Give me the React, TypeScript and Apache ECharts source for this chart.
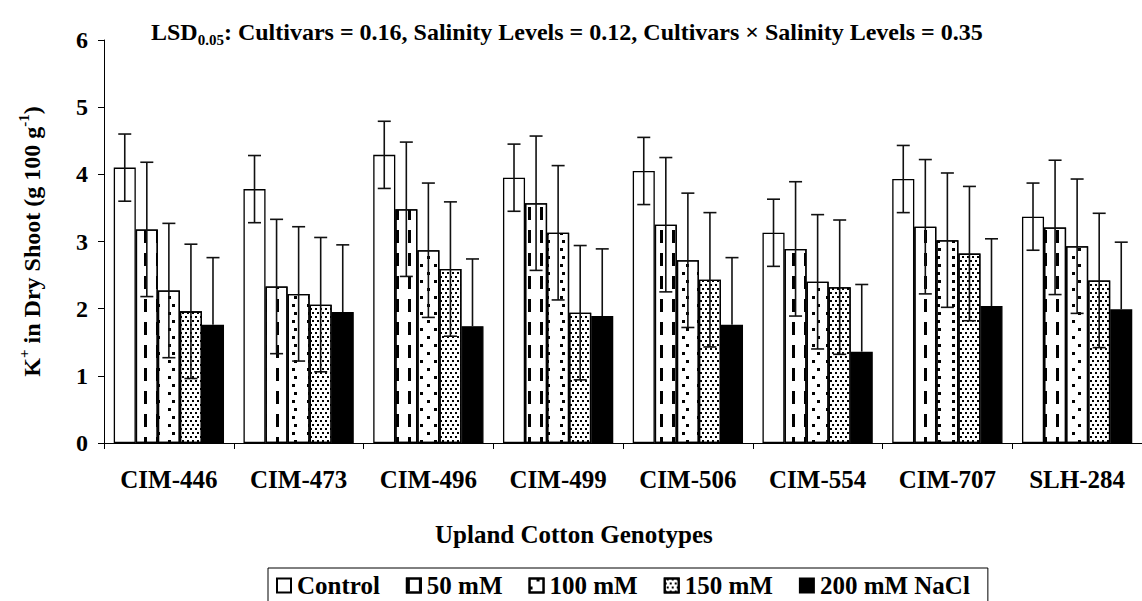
import React, { useEffect, useRef } from "react";
import * as echarts from "echarts";

const categories = ["CIM-446", "CIM-473", "CIM-496", "CIM-499", "CIM-506", "CIM-554", "CIM-707", "SLH-284"];
const levelNames = ["Control", "50 mM", "100 mM", "150 mM", "200 mM NaCl"];
const control = [4.10, 3.78, 4.29, 3.95, 4.05, 3.13, 3.93, 3.37];
const mM50 = [3.18, 2.33, 3.48, 3.57, 3.25, 2.89, 3.22, 3.21];
const mM100 = [2.27, 2.22, 2.87, 3.13, 2.72, 2.40, 3.02, 2.93];
const mM150 = [1.96, 2.06, 2.59, 1.94, 2.43, 2.32, 2.82, 2.42];
const mM200 = [1.76, 1.95, 1.74, 1.89, 1.76, 1.36, 2.04, 1.99];
const errControl = [0.5, 0.5, 0.5, 0.5, 0.5, 0.5, 0.5, 0.5];
const err50 = [1.0, 1.0, 1.0, 1.0, 1.0, 1.0, 1.0, 1.0];
const err100 = [1.0, 1.0, 1.0, 1.0, 1.0, 1.0, 1.0, 1.0];
const err150 = [1.0, 1.0, 1.0, 1.0, 1.0, 1.0, 1.0, 1.0];
const err200 = [1.0, 1.0, 1.0, 1.0, 1.0, 1.0, 1.0, 1.0];
const yTicks = [0, 1, 2, 3, 4, 5, 6];

const FONT = "Liberation Serif";

const values = [control, mM50, mM100, mM150, mM200];
const errs = [errControl, err50, err100, err150, err200];

const decals: any[] = [
  undefined,
  { symbol: "rect", symbolSize: 1, dashArrayX: [[2.5, 9]], dashArrayY: [13, 10], color: "#000", backgroundColor: "#fff" },
  { symbol: "rect", symbolSize: 1, dashArrayX: [[2.3, 10.7], [0, 6.5, 2.3, 4.2]], dashArrayY: [2.3, 4.2], color: "#000", backgroundColor: "#fff" },
  { symbol: "rect", symbolSize: 1, dashArrayX: [[1.6, 2.4], [0, 2, 1.6, 0.4]], dashArrayY: [1.6, 1.4], color: "#000", backgroundColor: "#fff" },
  undefined,
];

const GAP = 0.15;

export default function App() {
  const ref = useRef<HTMLDivElement>(null);
  useEffect(() => {
    const chart = echarts.init(ref.current!, null, { renderer: "svg" });
    const barSeries = levelNames.map((name, i) => ({
      name,
      type: "bar",
      data: values[i],
      barGap: "0%",
      barCategoryGap: GAP * 100 + "%",
      itemStyle: {
        color: i === 4 ? "#000" : "#fff",
        borderColor: "#000",
        borderWidth: 1.3,
        decal: decals[i],
      },
      z: 2,
    }));
    const errSeries = levelNames.map((name, i) => ({
      name: "err-" + name,
      type: "custom",
      data: values[i].map((v, k) => [k, v, errs[i][k]]),
      encode: { x: 0, y: 1 },
      z: 5,
      renderItem: (params: any, api: any) => {
        const x = api.value(0);
        const v = api.value(1);
        const e = api.value(2);
        const band = api.size([1, 0])[0];
        const bw = (band * (1 - GAP)) / 5;
        const c = api.coord([x, v]);
        const cx = c[0] + (i - 2) * bw;
        const top = api.coord([x, v + e])[1];
        const bot = i === 4 ? c[1] : api.coord([x, v - e])[1];
        const cap = 6.5;
        const st = { stroke: "#111", lineWidth: 1.6 };
        const children: any[] = [
          { type: "line", shape: { x1: cx, y1: top, x2: cx, y2: bot }, style: st },
          { type: "line", shape: { x1: cx - cap, y1: top, x2: cx + cap, y2: top }, style: st },
        ];
        if (i !== 4) {
          children.push({ type: "line", shape: { x1: cx - cap, y1: bot, x2: cx + cap, y2: bot }, style: st });
        }
        return { type: "group", children };
      },
    }));
    chart.setOption({
      animation: false,
      backgroundColor: "#fff",
      title: [
        {
          text: "{a|LSD}{s|0.05}{a|: Cultivars = 0.16, Salinity Levels = 0.12, Cultivars × Salinity Levels = 0.35}",
          left: 146,
          top: 12,
          textStyle: {
            rich: {
              a: { fontFamily: FONT, fontWeight: "bold", fontSize: 24, color: "#000", lineHeight: 27, verticalAlign: "bottom" },
              s: { fontFamily: FONT, fontWeight: "bold", fontSize: 15, color: "#000", lineHeight: 27, verticalAlign: "bottom", padding: [0, 0, -3, 0] },
            },
          },
        },
        {
          text: "Upland Cotton Genotypes",
          left: 430,
          top: 517,
          textStyle: { fontFamily: FONT, fontWeight: "bold", fontSize: 25, color: "#000" },
        },
      ],
      grid: { left: 104, top: 40, width: 1049, height: 403, containLabel: false },
      legend: {
        data: levelNames,
        left: 268,
        top: 568,
        orient: "horizontal",
        icon: "rect",
        itemWidth: 14,
        itemHeight: 14,
        itemGap: 26,
        padding: [5, 18, 20, 8],
        borderColor: "#000",
        borderWidth: 1,
        textStyle: { fontFamily: FONT, fontWeight: "bold", fontSize: 25, color: "#000", padding: [0, 0, 0, 1] },
      },
      xAxis: {
        type: "category",
        data: categories,
        axisLine: { lineStyle: { color: "#000", width: 1 } },
        axisTick: { show: true, length: 6, lineStyle: { color: "#000" } },
        axisLabel: { fontFamily: FONT, fontWeight: "bold", fontSize: 25, color: "#000", margin: 24, interval: 0 },
      },
      yAxis: {
        type: "value",
        min: 0,
        max: 6,
        interval: 1,
        name: "{a|K}{p|+}{a| in Dry Shoot (g 100 g}{p|-1}{a|)}",
        nameLocation: "middle",
        nameRotate: 90,
        nameGap: 60,
        nameTextStyle: {
          rich: {
            a: { fontFamily: FONT, fontWeight: "bold", fontSize: 24, color: "#000", lineHeight: 28, verticalAlign: "bottom" },
            p: { fontFamily: FONT, fontWeight: "bold", fontSize: 15, color: "#000", lineHeight: 28, verticalAlign: "top" },
          },
        },
        axisLine: { show: true, lineStyle: { color: "#000", width: 1 } },
        axisTick: { show: true, length: 6, lineStyle: { color: "#000" } },
        splitLine: { show: false },
        axisLabel: {
          fontFamily: FONT,
          fontWeight: "bold",
          fontSize: 24,
          color: "#000",
          margin: 16,
          formatter: (v: number) => (yTicks.includes(v) ? String(v) : ""),
        },
      },
      series: [...barSeries, ...errSeries],
    });
    return () => chart.dispose();
  }, []);
  return <div ref={ref} style={{ position: "fixed", left: 0, top: 0, width: 1142, height: 601 }} />;
}
